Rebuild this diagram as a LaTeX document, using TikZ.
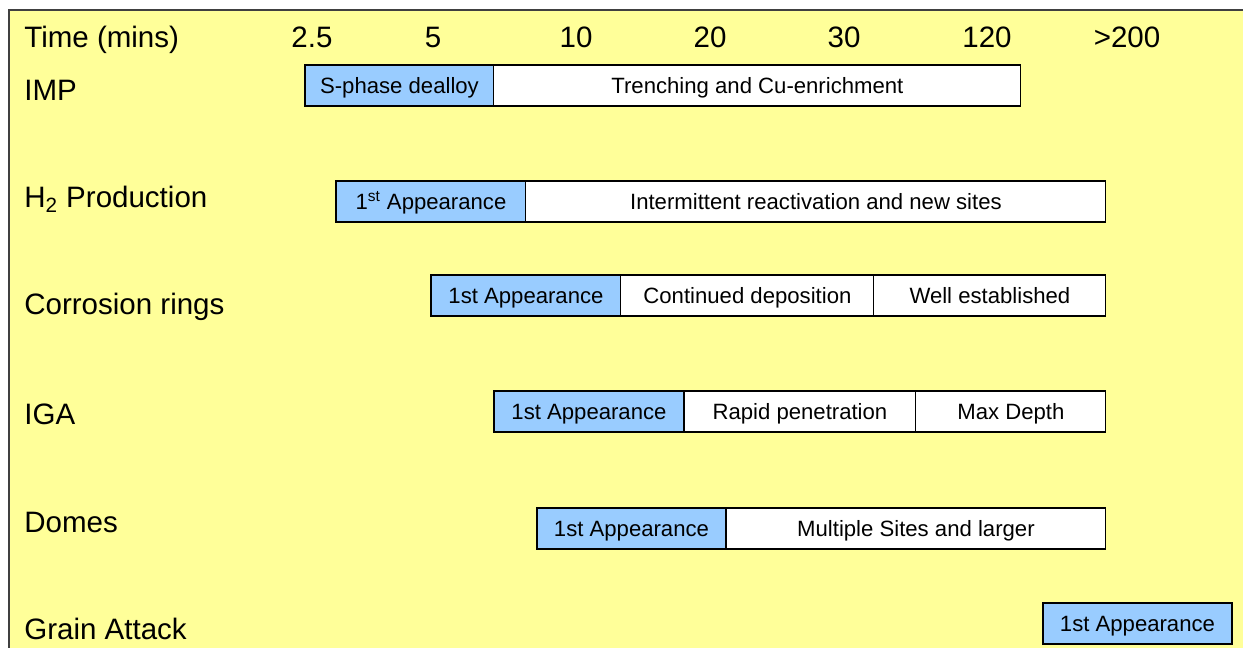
\documentclass[tikz,border=0pt]{standalone}
\usepackage{fontspec}
\setmainfont{Liberation Sans}
\usetikzlibrary{positioning}
\definecolor{bgyellow}{HTML}{FFFF99}
\definecolor{phaseblue}{HTML}{99CCFF}

\begin{document}
\begin{tikzpicture}[x=0.02cm, y=-0.02cm,
    lbl/.style={anchor=base west, inner sep=0pt, font=\fontsize{16.8}{20}\selectfont},
    tick/.style={anchor=base, inner sep=0pt, font=\fontsize{16.8}{20}\selectfont},
    phase/.style={draw, line width=0.6pt, fill=phaseblue, minimum height=0.82cm,
        text height=9pt, text depth=0pt,
        inner sep=0pt, outer sep=0pt, font=\fontsize{12.6}{15}\selectfont},
    stage/.style={phase, fill=white}]

    \useasboundingbox (0,0) rectangle (1243,648);
    \fill[bgyellow] (9,10) rectangle (1243,648);
    \draw[line width=0.8pt, black!75] (9,648) -- (9,10) -- (1243,10);

    % row labels
    \node[lbl] (time) at (24,48) {Time (mins)};
    \node[lbl] (imp) at (24,101) {IMP};
    \node[lbl] (htwo) at (24,208) {H\textsubscript{2} Production};
    \node[lbl] (rings) at (24,315) {Corrosion rings};
    \node[lbl] (iga) at (24,424) {IGA};
    \node[lbl] (domes) at (24,532) {Domes};
    \node[lbl] (grain) at (24,639) {Grain Attack};

    % time scale
    \foreach \t/\x in {2.5/312, 5/433, 10/576, 20/710, 30/844, 120/987, >200/1127}
        \node[tick] (t\x) at (\x,48) {\t};

    % IMP
    \node[phase, minimum width=3.78cm, anchor=west] (imp1) at (305,85.5) {S-phase dealloy};
    \node[stage, minimum width=10.54cm, right=0pt of imp1] (imp2) {Trenching and Cu-enrichment};

    % H2 production
    \node[phase, minimum width=3.8cm, anchor=west] (htwo1) at (336,201.5) {1\textsuperscript{st} Appearance};
    \node[stage, minimum width=11.6cm, right=0pt of htwo1] (htwo2) {Intermittent reactivation and new sites};

    % corrosion rings
    \node[phase, minimum width=3.8cm, anchor=west] (rings1) at (431,295.5) {1st Appearance};
    \node[stage, minimum width=5.06cm, right=0pt of rings1] (rings2) {Continued deposition};
    \node[stage, minimum width=4.64cm, right=0pt of rings2] (rings3) {Well established};

    % IGA
    \node[phase, minimum width=3.8cm, anchor=west] (iga1) at (494,411.5) {1st Appearance};
    \node[stage, minimum width=4.64cm, right=0pt of iga1] (iga2) {Rapid penetration};
    \node[stage, minimum width=3.8cm, right=0pt of iga2] (iga3) {Max Depth};

    % domes
    \node[phase, minimum width=3.78cm, anchor=west] (domes1) at (537,528.5) {1st Appearance};
    \node[stage, minimum width=7.6cm, right=0pt of domes1] (domes2) {Multiple Sites and larger};

    % grain attack
    \node[phase, minimum width=3.78cm, anchor=west] (grain1) at (1043,623.5) {1st Appearance};
\end{tikzpicture}
\end{document}
